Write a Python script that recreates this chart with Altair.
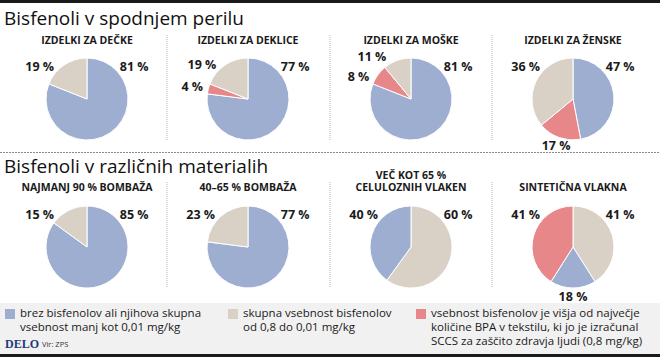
import altair as alt
import pandas as pd

# ---------------- data ----------------
section_titles = ["Bisfenoli v spodnjem perilu", "Bisfenoli v različnih materialih"]
pie_titles = [
    "IZDELKI ZA DEČKE", "IZDELKI ZA DEKLICE", "IZDELKI ZA MOŠKE", "IZDELKI ZA ŽENSKE",
    "NAJMANJ 90 % BOMBAŽA", "40–65 % BOMBAŽA", "VEČ KOT 65 %\nCELULOZNIH VLAKEN", "SINTETIČNA VLAKNA",
]
# slices of every pie, clockwise from 12 o'clock
pie_categories = [
    ["brez", "skupna"],
    ["brez", "visoka", "skupna"],
    ["brez", "visoka", "skupna"],
    ["brez", "visoka", "skupna"],
    ["brez", "skupna"],
    ["brez", "skupna"],
    ["skupna", "brez"],
    ["skupna", "brez", "visoka"],
]
pie_values = [
    [81, 19],
    [77, 4, 19],
    [81, 8, 11],
    [47, 17, 36],
    [85, 15],
    [77, 23],
    [60, 40],
    [41, 18, 41],
]
legend_categories = ["brez", "skupna", "visoka"]
legend_labels = [
    "brez bisfenolov ali njihova skupna\nvsebnost manj kot 0,01 mg/kg",
    "skupna vsebnost bisfenolov\nod 0,8 do 0,01 mg/kg",
    "vsebnost bisfenolov je višja od največje\nkoličine BPA v tekstilu, ki jo je izračunal\nSCCS za zaščito zdravja ljudi (0,8 mg/kg)",
]
source_text = "Vir: ZPS"
brand_text = "DELO"

# ---------------- style / layout ----------------
W, H = 660, 357
FONT = "Open Sans"
COLORS = {"brez": "#9daed1", "skupna": "#d9d1c5", "visoka": "#e8878a"}
COL_X = [87, 248, 411, 573]
ROW_Y = [99, 247]
R = 41
LR = 57       # label distance from centre
LR_LOW = 50   # label distance for labels below the pie

xs = alt.Scale(domain=[0, W], nice=False, zero=False)
ys = alt.Scale(domain=[0, H], nice=False, zero=False, reverse=True)
ts = alt.Scale(domain=[0, 100])

# arcs and labels
arc_rows, lab_rows, title_rows = [], [], []
for i, (cats, vals) in enumerate(zip(pie_categories, pie_values)):
    cx, cy = COL_X[i % 4], ROW_Y[i // 4]
    start = 0
    angles = []
    n = len(vals)
    for j, (c, v) in enumerate(zip(cats, vals)):
        arc_rows.append(dict(pie=i, cat=c, t0=start, t1=start + v, cx=cx, cy=cy))
        if j == 0:
            a = 15.5
        elif j == n - 1:
            a = 84.4
        else:
            a = start + v / 2
        angles.append(a)
        start += v
    if n == 3 and abs(angles[1] - angles[2]) < 5.6:
        m = (angles[1] + angles[2]) / 2
        angles[1], angles[2] = m - 3.3, m + 3.3
    for j, v in enumerate(vals):
        a = angles[j]
        lr = LR_LOW if 37.5 < a < 62.5 else LR
        lab_rows.append(dict(pie=i, la=a, lr=lr, txt=f"{v} %", cx=cx, cy=cy))
    title_rows.append(dict(txt=pie_titles[i], x=cx,
                           y=(41 if i < 4 else 188) - (12.5 if "\n" in pie_titles[i] else 0)))

arc_df = pd.DataFrame(arc_rows)
lab_df = pd.DataFrame(lab_rows)
title_df = pd.DataFrame(title_rows)

X = lambda f: alt.X(f, scale=xs, axis=None)
Y = lambda f: alt.Y(f, scale=ys, axis=None)

# backgrounds
bg_df = pd.DataFrame([
    dict(x=0, x2=W, y=0, y2=3, c="#1a1a1a"),
    dict(x=0, x2=W, y=303, y2=354, c="#f1f1f1"),
    dict(x=0, x2=W, y=354, y2=H, c="#1a1a1a"),
])
bg = alt.Chart(bg_df).mark_rect().encode(
    x=X("x:Q"), x2="x2:Q", y=Y("y:Q"), y2="y2:Q",
    color=alt.Color("c:N", scale=None),
)

# separators
sep_df = pd.DataFrame(
    [dict(x=x, x2=x, y=35, y2=140) for x in (167, 330, 492)]
    + [dict(x=x, x2=x, y=182, y2=287) for x in (167, 330, 492)]
)
seps = alt.Chart(sep_df).mark_rule(color="#b5b5b5", strokeDash=[1, 1], strokeWidth=1).encode(
    x=X("x:Q"), x2="x2:Q", y=Y("y:Q"), y2="y2:Q"
)
hsep = alt.Chart(pd.DataFrame([dict(x=0, x2=W, y=152.5)])).mark_rule(
    color="#8a8a8a", strokeDash=[2, 1], strokeWidth=1
).encode(x=X("x:Q"), x2="x2:Q", y=Y("y:Q"))

# section titles
st_df = pd.DataFrame([dict(txt=section_titles[0], x=4, y=25), dict(txt=section_titles[1], x=4, y=173)])
stitles = alt.Chart(st_df).mark_text(
    align="left", baseline="alphabetic", font=FONT, fontSize=19, color="#111111"
).encode(x=X("x:Q"), y=Y("y:Q"), text="txt:N")

# pie titles
ptitles = alt.Chart(title_df).mark_text(
    align="center", baseline="middle", font=FONT, fontSize=10.5, fontWeight="bold",
    color="#1a1a1a", lineBreak="\n", lineHeight=12.5,
).encode(x=X("x:Q"), y=Y("y:Q"), text="txt:N")

color_scale = alt.Scale(domain=legend_categories, range=[COLORS[c] for c in legend_categories])

arcs = alt.Chart(arc_df).mark_arc(outerRadius=R, stroke="white", strokeWidth=1).encode(
    x=X("cx:Q"), y=Y("cy:Q"),
    theta=alt.Theta("t0:Q", scale=ts, stack=None), theta2="t1:Q",
    color=alt.Color("cat:N", scale=color_scale, legend=None),
)

labels = alt.Chart(lab_df).mark_text(
    align="center", baseline="middle", font=FONT, fontSize=12.5, fontWeight="bold", color="#1a1a1a"
).encode(
    x=X("cx:Q"), y=Y("cy:Q"),
    theta=alt.Theta("la:Q", scale=ts, stack=None),
    radius=alt.Radius("lr:Q", scale=None),
    text="txt:N",
)

# legend
LEG_X = [5, 228, 416]
leg_df = pd.DataFrame([
    dict(cat=c, txt=t, x=LEG_X[k] + 5, tx=LEG_X[k] + 15, y=314)
    for k, (c, t) in enumerate(zip(legend_categories, legend_labels))
])
leg_sq = alt.Chart(leg_df).mark_square(size=100, opacity=1).encode(
    x=X("x:Q"), y=Y("y:Q"),
    color=alt.Color("cat:N", scale=color_scale, legend=None),
)
leg_txt = alt.Chart(leg_df).mark_text(
    align="left", baseline="middle", font=FONT, fontSize=11.5, color="#1a1a1a", lineBreak="\n", lineHeight=14
).encode(x=X("tx:Q"), y=Y("y:Q"), text="txt:N")

brand = alt.Chart(pd.DataFrame([dict(txt=brand_text, x=5, y=344)])).mark_text(
    align="left", baseline="middle", font="Liberation Serif", fontSize=12, fontWeight="bold", color="#1f3b78"
).encode(x=X("x:Q"), y=Y("y:Q"), text="txt:N")
source = alt.Chart(pd.DataFrame([dict(txt=source_text, x=42, y=345)])).mark_text(
    align="left", baseline="middle", font=FONT, fontSize=7.5, color="#333333"
).encode(x=X("x:Q"), y=Y("y:Q"), text="txt:N")

chart = alt.layer(
    bg, seps, hsep, stitles, ptitles, arcs, labels, leg_sq, leg_txt, brand, source
).properties(
    width=W, height=H, padding=0, autosize=alt.AutoSizeParams(type="none"), background="white"
).configure_view(stroke=None)

chart.save("out.html", embed_options={"renderer": "svg", "actions": False})
